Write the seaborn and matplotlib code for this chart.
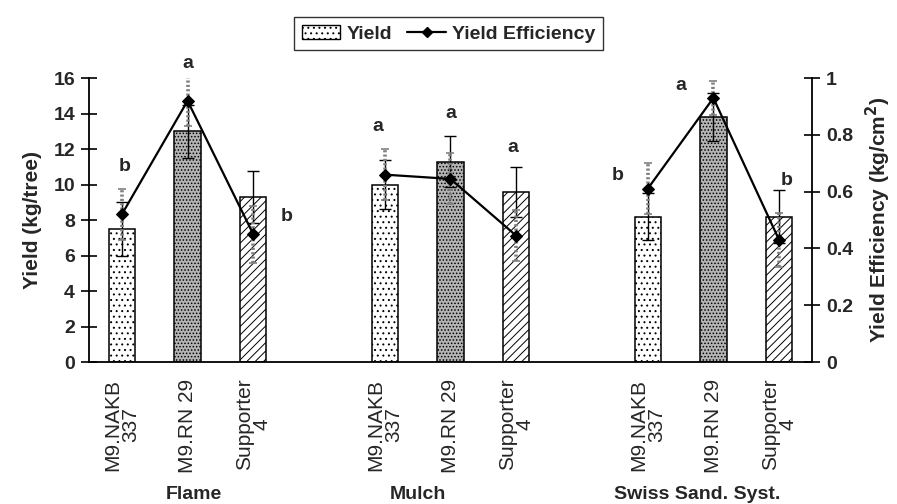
import matplotlib
matplotlib.use("Agg")
import matplotlib.pyplot as plt
import matplotlib.patches as mpatches
import matplotlib.lines as mlines
import pandas as pd
import seaborn as sns

sns.set_style("white")
plt.rcParams["font.family"] = ["Liberation Sans", "DejaVu Sans"]
plt.rcParams["hatch.linewidth"] = 0.7

# slots along the x axis (two empty slots separate the groups)
slots = ["F1", "F2", "F3", "gap1", "M1", "M2", "M3", "gap2", "S1", "S2", "S3"]
slot_labels = ["M9.NAKB\n337", "M9.RN 29", "Supporter\n4", "",
               "M9.NAKB\n337", "M9.RN 29", "Supporter\n4", "",
               "M9.NAKB\n337", "M9.RN 29", "Supporter\n4"]
groups = ["Flame", "Flame", "Flame", None, "Mulch", "Mulch", "Mulch", None,
          "Swiss", "Swiss", "Swiss"]
group_names = ["Flame", "Mulch", "Swiss Sand. Syst."]
rootstock = ["NAKB", "RN29", "Sup", None, "NAKB", "RN29", "Sup", None,
             "NAKB", "RN29", "Sup"]

yield_kg = [7.5, 13.0, 9.3, None, 10.0, 11.3, 9.6, None, 8.2, 13.8, 8.2]
yield_err = [1.5, 1.5, 1.45, None, 1.4, 1.45, 1.4, None, 1.3, 1.35, 1.5]
efficiency = [0.52, 0.92, 0.45, None, 0.66, 0.645, 0.445, None, 0.61, 0.93, 0.43]
eff_err = [0.09, 0.09, 0.10, None, 0.09, 0.09, 0.09, None, 0.09, 0.06, 0.095]

letters = ["b", "a", "b", "a", "a", "a", "b", "a", "b"]
letter_x = [0.05, 1.0, 2.5, 3.9, 5.0, 5.95, 7.54, 8.5, 10.12]
letter_y = [11.0, 16.8, 8.2, 13.3, 14.0, 12.1, 10.5, 15.6, 10.25]

df = pd.DataFrame({"slot": slots, "group": groups, "root": rootstock,
                   "yield": yield_kg, "yerr": yield_err,
                   "eff": efficiency, "eerr": eff_err})
df["pos"] = range(len(df))
data = df.dropna(subset=["yield"])

fig = plt.figure(figsize=(8.97, 5.04), dpi=100)
ax = fig.add_axes([0.0992, 0.2817, 0.806, 0.5633])

sns.barplot(data=data, x="slot", y="yield", order=slots, color="white",
            edgecolor="black", linewidth=1.1, width=0.4, errorbar=None, ax=ax)

styles = {"NAKB": ("white", "..."), "RN29": ("#b4b4b4", "....."), "Sup": ("white", "////")}
for patch in ax.patches:
    idx = int(round(patch.get_x() + patch.get_width() / 2))
    face, hatch = styles[df.loc[idx, "root"]]
    patch.set_facecolor(face)
    patch.set_hatch(hatch)

ax.errorbar(data["pos"], data["yield"], yerr=data["yerr"], fmt="none",
            ecolor="black", elinewidth=1.0, capsize=4, capthick=1.0, zorder=3)

ax.set_xlim(-0.5, 10.5)
ax.set_ylim(0, 16)
ax.set_yticks(range(0, 17, 2))
ax.set_xticks([k - 0.5 for k in range(1, 11)])
ax.set_xticklabels([])
ax.set_xticks(range(len(slots)), minor=True)
ax.set_xticklabels(slot_labels, minor=True, rotation=90, fontsize=15,
                   va="top", ha="center", linespacing=0.9)
ax.tick_params(axis="x", which="major", direction="inout", length=12, width=1.2, color="black")
ax.tick_params(axis="x", which="minor", length=0, pad=12)
ax.tick_params(axis="y", direction="inout", length=12, width=1.2, color="black",
               labelsize=14, pad=4)
for t in ax.get_yticklabels():
    t.set_fontweight("bold")
ax.set_xlabel("")
ax.set_ylabel("Yield (kg/tree)", fontsize=15, fontweight="bold", labelpad=8)
for side in ["left", "bottom"]:
    ax.spines[side].set_color("black")
    ax.spines[side].set_linewidth(1.3)
ax.spines["top"].set_visible(False)
ax.spines["right"].set_visible(False)

for txt, lx, ly in zip(letters, letter_x, letter_y):
    ax.text(lx, ly, txt, ha="center", va="center", fontsize=14,
            fontweight="bold", clip_on=False)

# group names under the tick labels
group_x = [1.1, 4.5, 8.75]
for name, gx in zip(group_names, group_x):
    ax.text(gx, -0.465, name, transform=ax.get_xaxis_transform(), ha="center",
            va="center", fontsize=14, fontweight="bold")

ax2 = ax.twinx()
edata = data.copy()
eb = ax2.errorbar(edata["pos"], edata["eff"], yerr=edata["eerr"], fmt="none",
                  ecolor="#808080", elinewidth=2.6, capsize=3, capthick=1.2, zorder=4)
eb.lines[2][0].set_linestyle((0, (0.6, 0.6)))
sns.lineplot(data=edata, x="pos", y="eff", units="group", estimator=None,
             color="black", marker="D", markersize=6, markeredgecolor="black",
             linewidth=1.6, ax=ax2, zorder=5)
ax2.set_ylim(0, 1)
ax2.set_xlim(-0.5, 10.5)
ax2.set_yticks([0, 0.2, 0.4, 0.6, 0.8, 1])
ax2.set_yticklabels(["0", "0.2", "0.4", "0.6", "0.8", "1"])
ax2.tick_params(axis="y", direction="inout", length=12, width=1.2, color="black",
                labelsize=14, pad=4)
for t in ax2.get_yticklabels():
    t.set_fontweight("bold")
ax2.set_xlabel("")
ax2.set_ylabel("Yield Efficiency (kg/cm$^\\mathbf{2}$)", fontsize=15,
               fontweight="bold", labelpad=8)
for side in ["top", "left", "bottom"]:
    ax2.spines[side].set_visible(False)
ax2.spines["right"].set_color("black")
ax2.spines["right"].set_linewidth(1.3)

h_bar = mpatches.Patch(facecolor="white", edgecolor="black", hatch="...", label="Yield")
h_line = mlines.Line2D([], [], color="black", marker="D", markersize=5,
                       linewidth=1.6, label="Yield Efficiency")
leg = fig.legend(handles=[h_bar, h_line], loc="upper center", bbox_to_anchor=(0.5, 0.985),
                 ncol=2, frameon=True, fancybox=False, edgecolor="black",
                 prop={"weight": "bold", "size": 14}, handlelength=2.0,
                 columnspacing=0.8, handletextpad=0.3, borderpad=0.4)
leg.get_frame().set_linewidth(1.0)

fig.savefig("out.png", dpi=100)
